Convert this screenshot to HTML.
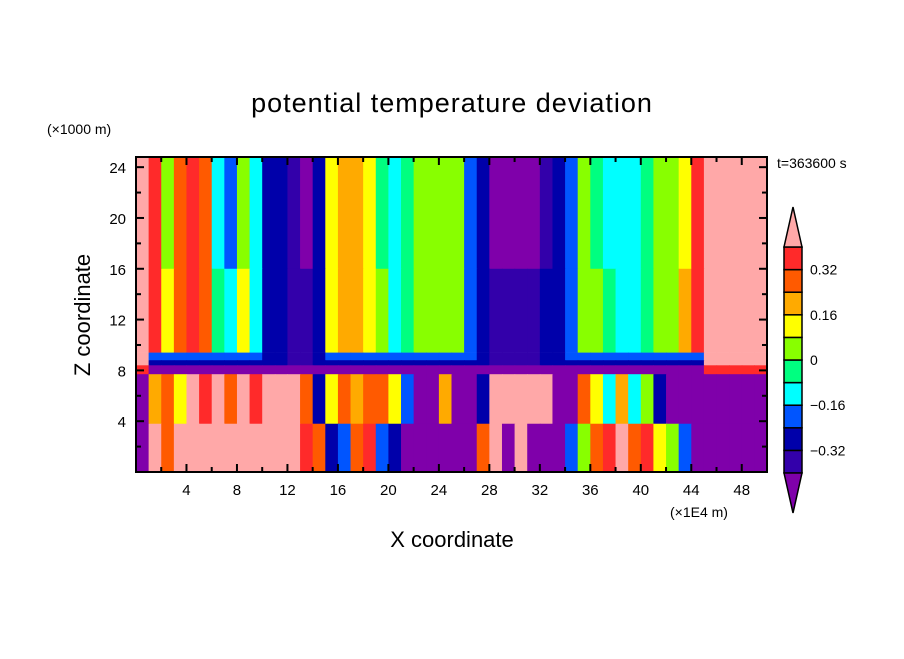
<!DOCTYPE html>
<html><head><meta charset="utf-8"><style>
body{margin:0;background:#fff;}
svg text{font-family:"Liberation Sans",sans-serif;fill:#000;}
</style></head><body>
<svg id="chart" width="904" height="654" xmlns="http://www.w3.org/2000/svg">
<rect width="904" height="654" fill="#fff"/>
<text x="452" y="112" font-size="27" text-anchor="middle" letter-spacing="1">potential temperature deviation</text>
<text x="47" y="134" font-size="14">(×1000 m)</text>
<text x="777" y="168" font-size="14">t=363600 s</text>
<text transform="translate(90,315) rotate(-90)" font-size="22" text-anchor="middle">Z coordinate</text>
<text x="452" y="547" font-size="22" text-anchor="middle">X coordinate</text>
<text x="670" y="517" font-size="14">(×1E4 m)</text>
<g id="field"></g>
<g id="axes"></g>
<g id="cbar"></g>
</svg>
<script>
const xCols=[0,1,2,3,4,5,6,7,8,9,10,11,12,13,14,15,16,17,18,19,20,21,22,23,24,25,26,27,28,29,30,31,32,33,34,35,36,37,38,39,40,41,42,43,44,45,46,47,48,49];
const upperTopVals=[.45,.35,.02,.25,.35,.28,-.1,-.2,.02,-.12,-.28,-.3,-.36,-.42,-.3,.1,.22,.22,.12,-.02,-.1,-.05,.02,.05,.05,.02,-.2,-.3,-.42,-.42,-.42,-.42,-.36,-.28,-.2,.02,-.02,-.1,-.12,-.12,-.05,.02,.05,.1,.33,.45,.45,.45,.45,.45];
const upperMidVals=[.45,.35,.1,.25,.36,.28,-.05,-.1,.1,-.12,-.28,-.3,-.33,-.36,-.25,.12,.22,.22,.15,.03,-.1,-.05,.04,.06,.06,.02,-.2,-.28,-.36,-.4,-.4,-.36,-.3,-.25,-.18,.05,.04,-.05,-.1,-.1,-.05,.04,.06,.2,.33,.45,.45,.45,.45,.45];
const lowerTopVals=[-.45,.2,.3,.1,.45,.35,.45,.3,.45,.35,.45,.45,.45,.3,-.3,.1,.3,.2,.3,.25,.1,-.2,-.45,-.45,.2,-.45,-.45,-.3,.45,.45,.45,.45,.45,-.45,-.45,.3,.1,-.1,.2,-.1,0,-.3,-.45,-.45,-.45,-.45,-.45,-.45,-.45,-.45];
const lowerBotVals=[-.45,.45,.3,.45,.45,.45,.45,.45,.45,.45,.45,.45,.45,.35,.3,-.3,-.2,.3,.35,-.2,-.3,-.45,-.45,-.45,-.45,-.45,-.45,.3,.45,-.45,.45,-.45,-.45,-.45,-.2,0,.3,.35,.45,.3,.35,.1,0,-.2,-.45,-.45,-.45,-.45,-.45,-.45];
const levels=[-0.4,-0.32,-0.24,-0.16,-0.08,0,0.08,0.16,0.24,0.32,0.4];
const cbLabels=["0.32","0.16","0","−0.16","−0.32"];
const cbLabelVals=[0.32,0.16,0,-0.16,-0.32];
const xTicks=[4,8,12,16,20,24,28,32,36,40,44,48];
const yTicks=[4,8,12,16,20,24];
const colors=["#7f00aa","#3300aa","#0000aa","#0055ff","#00ffff","#00ff80","#88ff00","#ffff00","#ffaa00","#ff5a00","#ff2a2a","#ffa8a8"];
const L=136,R=767,T=157,B=472,X0=0,X1=50,Z0=0,Z1=24.8;
const sx=v=>L+(v-X0)/(X1-X0)*(R-L);
const sz=v=>B-(v-Z0)/(Z1-Z0)*(B-T);
function col(v){let i=0;while(i<levels.length&&v>=levels[i])i++;return colors[i];}
const NS="http://www.w3.org/2000/svg";
function mk(tag,attrs,parent){const e=document.createElementNS(NS,tag);for(const k in attrs)e.setAttribute(k,attrs[k]);parent.appendChild(e);return e;}
const field=document.getElementById('field');
function row(vals,z0,z1,name){
  xCols.forEach((x,i)=>{
    const r=mk('rect',{x:sx(x),y:sz(z1),width:sx(x+1)-sx(x)+0.6,height:sz(z0)-sz(z1)+0.3,fill:col(vals[i])},field);
    
    
  });
}
row(upperTopVals,16,Z1,'upper-top');
row(upperMidVals,9.4,16,'upper-mid');
row(upperMidVals.map(v=>v>0.4?v:Math.min(v,-0.2)),8.8,9.4,'transition');
row(upperMidVals.map(v=>v>0.4?v:Math.min(v,-0.28)),8.4,8.8,'transition-low');
row(upperMidVals.map(v=>v>0.4?0.35:-0.45),7.7,8.4,'inversion');
row(lowerTopVals,3.8,7.7,'lower-top');
row(lowerBotVals,0,3.8,'lower-bottom');
const axes=document.getElementById('axes');
const fr=mk('rect',{x:L,y:T,width:R-L,height:B-T,fill:'none',stroke:'#000','stroke-width':2},axes);


for(let v=2;v<50;v+=2){const major=v%4===0;const len=major?8:5;
  mk('line',{x1:sx(v),x2:sx(v),y1:B,y2:B-len,stroke:'#000','stroke-width':2},axes);
  mk('line',{x1:sx(v),x2:sx(v),y1:T,y2:T+len,stroke:'#000','stroke-width':2},axes);}
for(let v=2;v<=24;v+=2){const major=v%4===0;const len=major?8:5;
  mk('line',{x1:L,x2:L+len,y1:sz(v),y2:sz(v),stroke:'#000','stroke-width':2},axes);
  mk('line',{x1:R,x2:R-len,y1:sz(v),y2:sz(v),stroke:'#000','stroke-width':2},axes);}
xTicks.forEach(v=>{const t=mk('text',{x:sx(v),y:B+23,'font-size':15,'text-anchor':'middle'},axes);t.textContent=v;
  
  });
yTicks.forEach(v=>{const t=mk('text',{x:L-10,y:sz(v)+6,'font-size':15,'text-anchor':'end'},axes);t.textContent=v;
  
  });
const cb=document.getElementById('cbar');
const CX0=784,CX1=802,CT=247,CB=473;
const cy=v=>CB-(v-levels[0])/(levels[levels.length-1]-levels[0])*(CB-CT);
for(let i=0;i<levels.length-1;i++){
  const r=mk('rect',{x:CX0,y:cy(levels[i+1]),width:CX1-CX0,height:cy(levels[i])-cy(levels[i+1]),fill:colors[i+1],stroke:'#000','stroke-width':1.5},cb);
  
  
}
const tu=mk('polygon',{points:`${CX0},${CT} ${CX1},${CT} ${(CX0+CX1)/2},207`,fill:colors[11],stroke:'#000','stroke-width':1.5},cb);


const td=mk('polygon',{points:`${CX0},${CB} ${CX1},${CB} ${(CX0+CX1)/2},513`,fill:colors[0],stroke:'#000','stroke-width':1.5},cb);


cbLabels.forEach((s,i)=>{const t=mk('text',{x:810,y:cy(cbLabelVals[i])+5,'font-size':14},cb);t.textContent=s;
  
  });
</script>
</body></html>
